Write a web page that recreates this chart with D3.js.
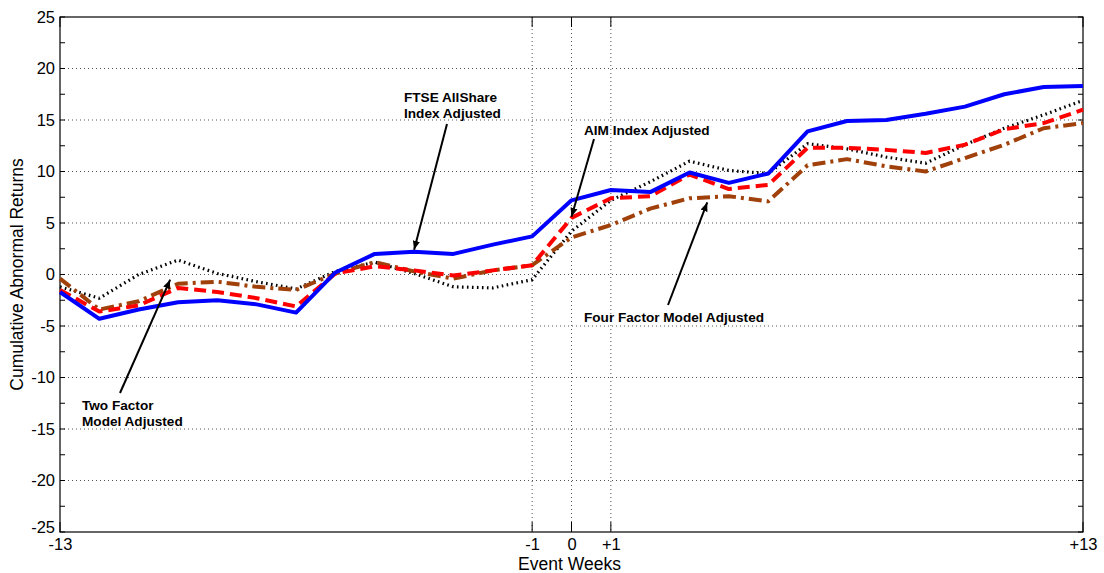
<!DOCTYPE html>
<html>
<head>
<meta charset="utf-8">
<script src="https://cdn.jsdelivr.net/npm/d3@7"></script>
<style>
  body { margin: 0; background: #fff; }
  svg { display: block; font-family: "Liberation Sans", Arial, sans-serif; }
</style>
</head>
<body>
<svg id="chart" width="1104" height="573"></svg>
<script>
// Event-window weeks
const weeks = d3.range(-13, 14);

// Cumulative abnormal returns per benchmark
const ftseAllShare = [-1.7, -4.3, -3.4, -2.7, -2.5, -2.9, -3.7, 0.2, 2.0, 2.2, 2.0, 2.9, 3.7, 7.2, 8.2, 8.0, 9.9, 8.9, 9.8, 13.9, 14.9, 15.0, 15.6, 16.3, 17.5, 18.2, 18.3];
const aimIndex     = [-1.5, -3.6, -3.0, -1.3, -1.7, -2.3, -3.1, 0.1, 0.8, 0.4, -0.1, 0.4, 0.9, 5.5, 7.4, 7.6, 9.7, 8.3, 8.7, 12.3, 12.3, 12.1, 11.8, 12.6, 14.1, 14.7, 16.0];
const twoFactor    = [-1.2, -2.3, 0.0, 1.4, 0.1, -0.7, -1.4, 0.3, 1.2, 0.1, -1.2, -1.3, -0.5, 4.2, 7.2, 9.0, 11.0, 10.1, 9.8, 12.7, 12.2, 11.4, 10.8, 12.6, 14.2, 15.5, 16.9];
const fourFactor   = [-0.4, -3.4, -2.6, -0.9, -0.7, -1.2, -1.5, 0.1, 1.2, 0.3, -0.4, 0.4, 0.9, 3.6, 4.8, 6.4, 7.4, 7.6, 7.1, 10.6, 11.2, 10.5, 10.0, 11.3, 12.6, 14.2, 14.7];

// Axis tick values and labels
const xTickValues = [-13, -1, 0, 1, 13];
const xTickLabels = ["-13", "-1", "0", "+1", "+13"];
const yTickValues = [-25, -20, -15, -10, -5, 0, 5, 10, 15, 20, 25];
const yTickLabels = ["-25", "-20", "-15", "-10", "-5", "0", "5", "10", "15", "20", "25"];
const yMinorTicks = [-22.5, -17.5, -12.5, -7.5, -2.5, 2.5, 7.5, 12.5, 17.5, 22.5];

const svg = d3.select("#chart");
const plotL = 60, plotR = 1083, plotT = 17, plotB = 532;

const x = d3.scaleLinear().domain([-13, 13]).range([plotL, plotR]);
const y = d3.scaleLinear().domain([-25, 25]).range([plotB, plotT]);

// Horizontal dotted grid
svg.append("g").selectAll("line").data(yTickValues.filter(v => v > -25 && v < 25)).join("line")
  .attr("x1", plotL).attr("x2", plotR)
  .attr("y1", d => y(d)).attr("y2", d => y(d))
  .attr("stroke", "#555").attr("stroke-width", 1).attr("stroke-dasharray", "1,3");

// Vertical dotted grid around the event week
svg.append("g").selectAll("line").data([-1, 0, 1]).join("line")
  .attr("x1", d => x(d)).attr("x2", d => x(d))
  .attr("y1", plotT).attr("y2", plotB)
  .attr("stroke", "#555").attr("stroke-width", 1).attr("stroke-dasharray", "1,3");

// Y axis labels (left)
const yAxisL = svg.append("g").attr("transform", `translate(${plotL},0)`)
  .call(d3.axisLeft(y).tickValues(yTickValues).tickSize(0).tickPadding(5)
    .tickFormat((d, i) => yTickLabels[i]));
yAxisL.select(".domain").remove();
yAxisL.selectAll("text").attr("font-size", 16.5).attr("fill", "#000");
// lowest label sits just above the corner so it clears the first week label
yAxisL.selectAll(".tick").filter(d => d === -25).select("text").attr("dy", "0.05em");

// Inward tick marks on all four sides
const ticksG = svg.append("g").attr("stroke", "#000").attr("stroke-width", 1);
yTickValues.concat(yMinorTicks).forEach(v => {
  ticksG.append("line").attr("x1", plotL).attr("x2", plotL + 5).attr("y1", y(v)).attr("y2", y(v));
  ticksG.append("line").attr("x1", plotR - 5).attr("x2", plotR).attr("y1", y(v)).attr("y2", y(v));
});
xTickValues.forEach(v => {
  ticksG.append("line").attr("x1", x(v)).attr("x2", x(v)).attr("y1", plotB).attr("y2", plotB - 10);
  ticksG.append("line").attr("x1", x(v)).attr("x2", x(v)).attr("y1", plotT).attr("y2", plotT + 10);
});

// X axis labels
const xAxis = svg.append("g").attr("transform", `translate(0,${plotB})`)
  .call(d3.axisBottom(x).tickValues(xTickValues).tickSize(0).tickPadding(6)
    .tickFormat((d, i) => xTickLabels[i]));
xAxis.select(".domain").remove();
xAxis.selectAll("text").attr("font-size", 16.5).attr("fill", "#000");

// Frame
svg.append("rect").attr("x", plotL).attr("y", plotT).attr("width", plotR - plotL).attr("height", plotB - plotT)
  .attr("fill", "none").attr("stroke", "#000").attr("stroke-width", 1.2);

// Axis titles
svg.append("text").attr("x", x(0) - 2).attr("y", 570).attr("text-anchor", "middle")
  .attr("font-size", 17.5).text("Event Weeks");
svg.append("text").attr("transform", `translate(23,${(plotT + plotB) / 2}) rotate(-90)`)
  .attr("text-anchor", "middle").attr("font-size", 17.5).text("Cumulative Abnormal Returns");

// Series
const line = d3.line().x((d, i) => x(weeks[i])).y(d => y(d));
const series = [
  { values: twoFactor,    color: "#000000", width: 3.2, dash: "1.6,3.4" },
  { values: fourFactor,   color: "#a0400a", width: 4,   dash: "13,5,3,5" },
  { values: aimIndex,     color: "#ff0000", width: 4,   dash: "12,6" },
  { values: ftseAllShare, color: "#0000ff", width: 4,   dash: null }
];
svg.append("g").selectAll("path").data(series).join("path")
  .attr("d", d => line(d.values))
  .attr("fill", "none")
  .attr("stroke", d => d.color)
  .attr("stroke-width", d => d.width)
  .attr("stroke-dasharray", d => d.dash)
  .attr("stroke-linejoin", "round");

// Arrow marker
svg.append("defs").append("marker")
  .attr("id", "arrowhead").attr("viewBox", "0 0 10 10").attr("refX", 10).attr("refY", 5)
  .attr("markerWidth", 9).attr("markerHeight", 9).attr("markerUnits", "userSpaceOnUse")
  .attr("orient", "auto")
  .append("path").attr("d", "M0,1 L10,5 L0,9 Z").attr("fill", "#000");

// Annotations: text lines, arrow start (px), arrow tip (data units)
const annotations = [
  { lines: ["FTSE AllShare", "Index Adjusted"], tx: 404, ty: 102, from: [447, 124], to: [-4.0, 2.4] },
  { lines: ["AIM Index Adjusted"], tx: 584, ty: 135, from: [594, 139], to: [0.0, 5.6] },
  { lines: ["Four Factor Model Adjusted"], tx: 584, ty: 322, from: [668, 305], to: [3.45, 7.0] },
  { lines: ["Two Factor", "Model Adjusted"], tx: 82, ty: 410, from: [120, 393], to: [-10.2, -0.5] }
];
const ann = svg.append("g");
annotations.forEach(a => {
  ann.append("line")
    .attr("x1", a.from[0]).attr("y1", a.from[1])
    .attr("x2", x(a.to[0])).attr("y2", y(a.to[1]))
    .attr("stroke", "#000").attr("stroke-width", 2)
    .attr("marker-end", "url(#arrowhead)");
  const t = ann.append("text").attr("x", a.tx).attr("y", a.ty)
    .attr("font-size", 13.6).attr("font-weight", "bold");
  a.lines.forEach((s, i) => t.append("tspan").attr("x", a.tx).attr("dy", i ? 16 : 0).text(s));
});
</script>
</body>
</html>
